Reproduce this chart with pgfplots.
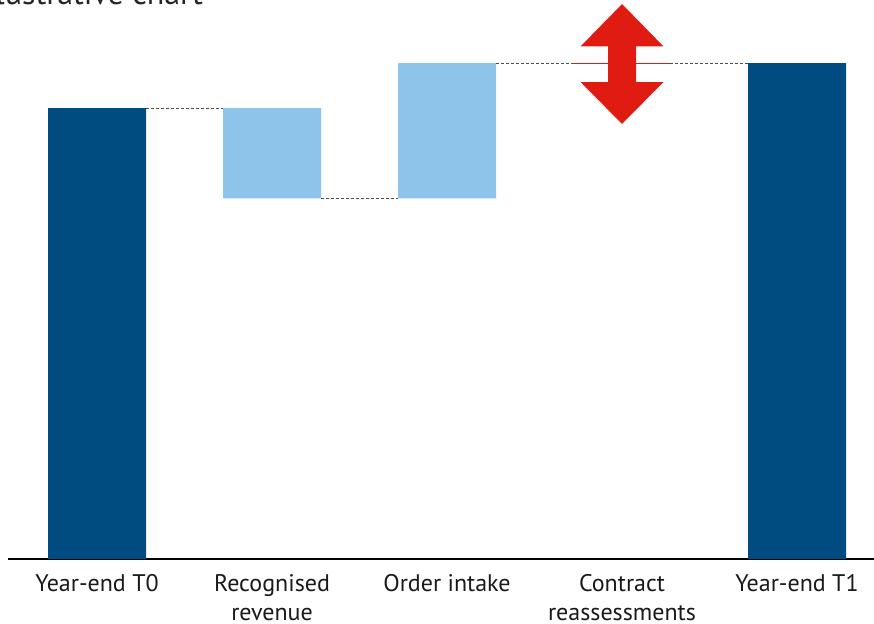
\documentclass[border=0pt]{standalone}
\usepackage{fontspec}
\setmainfont{PT Sans}
\usepackage{pgfplots}
\pgfplotsset{compat=1.18}
\definecolor{darkblue}{RGB}{0,75,128}
\definecolor{lightblue}{RGB}{142,195,234}
\definecolor{arrowred}{RGB}{224,27,18}
\begin{document}
\begin{tikzpicture}
\begin{axis}[
  at={(0pt,0pt)}, anchor=south west,
  scale only axis, width=433pt, height=279.5pt,
  xmin=-0.509, xmax=4.44, ymin=0, ymax=124,
  axis x line=bottom, axis line style={-, line width=0.8pt, black},
  hide y axis,
  ybar stacked, bar width=0.56,
  xtick={0,1,2,3,4},
  xticklabels={Year-end T0, Recognised\\revenue, Order intake, Contract\\reassessments, Year-end T1},
  major tick length=0pt,
  xticklabel style={align=center, font=\fontsize{12}{14.5}\selectfont, yshift=-4pt, text=black!90},
  clip=false,
]
\addplot[draw=none, fill=none] coordinates {(0,0) (1,80) (2,80) (3,0) (4,0)};
\addplot[draw=none, fill=darkblue] coordinates {(0,100) (1,0) (2,0) (3,0) (4,110)};
\addplot[draw=none, fill=lightblue] coordinates {(0,0) (1,20) (2,30) (3,0) (4,0)};
\end{axis}
\begin{axis}[
  at={(0pt,0pt)}, anchor=south west,
  scale only axis, width=433pt, height=279.5pt,
  xmin=-0.509, xmax=4.44, ymin=0, ymax=124,
  hide axis, clip=false,
]
\addplot[dash pattern=on 1.7pt off 0.8pt, gray!60!black, line width=0.5pt] coordinates {(0.28,100) (0.72,100)};
\addplot[dash pattern=on 1.7pt off 0.8pt, gray!60!black, line width=0.5pt] coordinates {(1.28,80) (1.72,80)};
\addplot[dash pattern=on 1.7pt off 0.8pt, gray!60!black, line width=0.5pt] coordinates {(2.28,110) (2.72,110)};
\addplot[dash pattern=on 1.7pt off 0.8pt, gray!60!black, line width=0.5pt] coordinates {(3.274,110) (3.72,110)};
\addplot[arrowred, line width=0.5pt] coordinates {(2.72,110) (3.274,110)};
\addplot[fill=arrowred, draw=none] coordinates {(3,123.1) (3.237,113.7) (3.08,113.7) (3.08,105.8) (3.237,105.8) (3,96.5) (2.763,105.8) (2.92,105.8) (2.92,113.7) (2.763,113.7)} -- cycle;
\end{axis}
\node[anchor=base east, font=\fontsize{16}{19}\selectfont, text=black!85] at (101pt,277pt) {Illustrative chart};
\pgfresetboundingbox
\useasboundingbox (-4pt,-32.5pt) rectangle (433pt,279.5pt);
\end{tikzpicture}
\end{document}
